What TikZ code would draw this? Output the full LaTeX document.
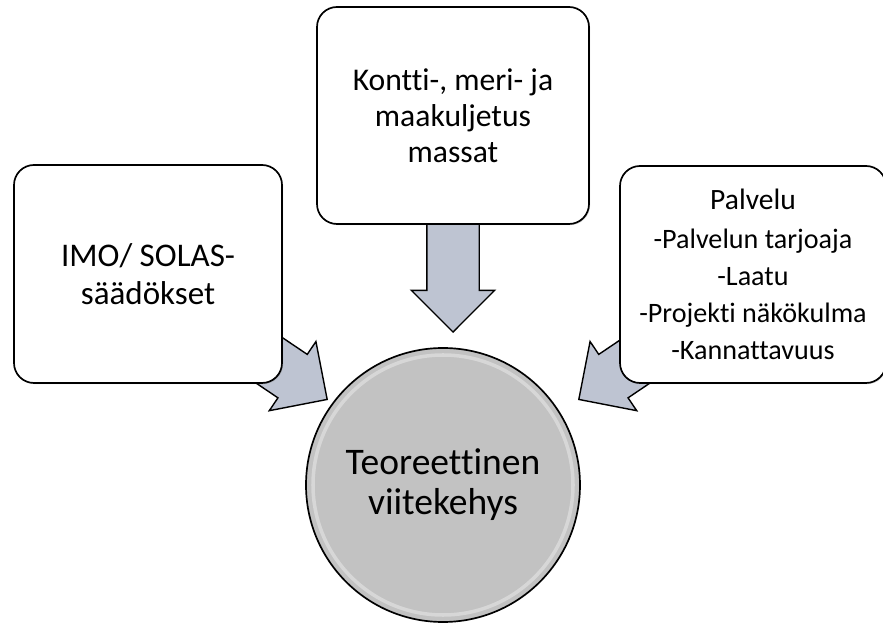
\documentclass[tikz,border=0pt]{standalone}
\usepackage{fontspec}
\setmainfont[Ligatures={NoCommon}]{Carlito}
\usetikzlibrary{shapes.arrows,shadows}

\definecolor{arrowgray}{RGB}{190,196,210}
\definecolor{coregray}{RGB}{194,194,194}

\tikzset{
	topicbox/.style={shape=rectangle, rounded corners=0.5cm, draw=black, line width=1.2pt, fill=white,
		drop shadow={shadow xshift=0.8pt, shadow yshift=-0.8pt, opacity=0.35}, align=center, inner sep=0pt},
	blockarrow/.style={single arrow, draw=black, line width=1pt, fill=arrowgray, anchor=tip,
		inner xsep=0pt, inner ysep=0.6375cm, single arrow head extend=0.3875cm}
}

\begin{document}
\begin{tikzpicture}
	
	\useasboundingbox (0, 0) rectangle (22.075, 15.7);
	
	% arrows first, the boxes cover their tails
	\node[blockarrow, minimum height=3.2cm,  rotate=-90]  (atop)   at (11.325, 7.375) {};
	\node[blockarrow, minimum height=3.75cm, rotate=-34]  (aleft)  at (8.2, 5.7)      {};
	\node[blockarrow, minimum height=3.75cm, rotate=-146] (aright) at (14.45, 5.7)    {};
	
	\node[topicbox, minimum width=6.7cm, minimum height=5.45cm, font=\fontsize{23.5}{27}\selectfont] (imo) at (3.7, 8.85)
		{IMO/ SOLAS-\\säädökset};
	\node[topicbox, minimum width=6.8cm, minimum height=5.425cm, font=\fontsize{22.5}{25.5}\selectfont] (massat) at (11.325, 12.8125)
		{Kontti-, meri- ja\\maakuljetus\\massat};
	\node[topicbox, minimum width=6.65cm, minimum height=5.425cm, font=\fontsize{20}{26.3}\selectfont] (palvelu) at (18.825, 8.8375)
		{{\fontsize{21}{26}\selectfont Palvelu}\\[1.5pt]-Palvelun tarjoaja\\-Laatu\\-Projekti näkökulma\\-Kannattavuus};
	
	\node[shape=circle, draw=black, line width=1.2pt, fill=coregray, minimum size=6.85cm, align=center,
		font=\fontsize{26.7}{28.5}\selectfont] (core) at (11.075, 3.575) {Teoreettinen\\viitekehys};
	\draw[white, opacity=0.35, line width=2.5pt] (core.center) circle[radius=3.25cm];
	
\end{tikzpicture}
\end{document}
